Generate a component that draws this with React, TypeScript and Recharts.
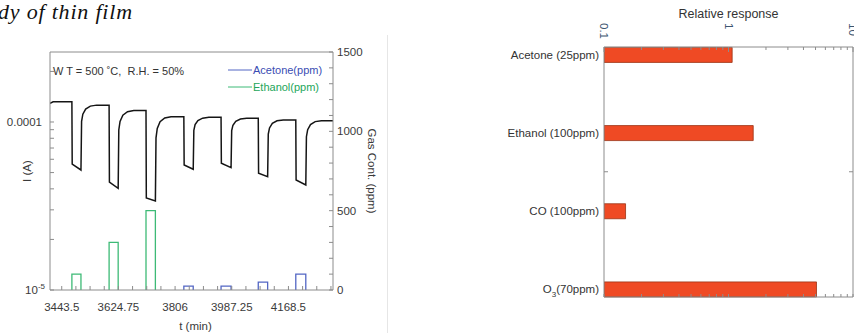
import React from 'react';
import { LineChart, Line, XAxis, YAxis, Legend, BarChart, Bar } from 'recharts';

// ---------- left panel: sensor current and gas pulses ----------
const timeTicks = [
  3443.5, 3488.8125, 3534.125, 3579.4375, 3624.75, 3670.0625, 3715.375, 3760.6875,
  3806, 3851.3125, 3896.625, 3941.9375, 3987.25, 4032.5625, 4077.875, 4123.1875,
  4168.5, 4213.8125, 4259.125, 4304.4375
];
const majorTimes = [3443.5, 3624.75, 3806, 3987.25, 4168.5];
const currentTicks = [1e-5, 2e-5, 3e-5, 4e-5, 5e-5, 6e-5, 7e-5, 8e-5, 9e-5, 1e-4, 2e-4];
const gasTicks = [0, 100, 200, 300, 400, 500, 600, 700, 800, 900, 1000, 1100, 1200, 1300, 1400, 1500];

const currentTime = [
  3406, 3416,
  3476, 3477, 3505, 3507, 3511, 3520, 3535, 3555,
  3595, 3596, 3624, 3626, 3630, 3639, 3654, 3674,
  3713, 3714, 3743, 3745, 3749, 3758, 3773, 3793,
  3834, 3835, 3864, 3866, 3870, 3879, 3894, 3914,
  3953, 3954, 3985, 3987, 3991, 4000, 4015, 4035,
  4072, 4073, 4102, 4104, 4108, 4117, 4132, 4152,
  4192, 4193, 4224, 4226, 4230, 4239, 4254, 4274,
  4311
];
const currentAmp = [
  1.29e-4, 1.32e-4,
  1.32e-4, 5.62e-5, 5.18e-5, 1.009e-4, 1.113e-4, 1.194e-4, 1.243e-4, 1.26e-4,
  1.26e-4, 4.39e-5, 4.03e-5, 8.96e-5, 1.008e-4, 1.098e-4, 1.151e-4, 1.17e-4,
  1.17e-4, 3.53e-5, 3.39e-5, 8.05e-5, 9.15e-5, 1.003e-4, 1.056e-4, 1.075e-4,
  1.075e-4, 5.55e-5, 5.23e-5, 8.92e-5, 9.65e-5, 1.021e-4, 1.054e-4, 1.066e-4,
  1.066e-4, 5.68e-5, 5.35e-5, 8.88e-5, 9.57e-5, 1.01e-4, 1.041e-4, 1.052e-4,
  1.052e-4, 4.95e-5, 4.73e-5, 8.47e-5, 9.22e-5, 9.81e-5, 1.016e-4, 1.028e-4,
  1.028e-4, 4.52e-5, 4.22e-5, 8.17e-5, 9.0e-5, 9.66e-5, 1.005e-4, 1.018e-4,
  1.018e-4
];

const ethanolStart = [3476, 3595, 3713];
const ethanolEnd = [3505, 3624, 3743];
const ethanolPpm = [100, 300, 500];

const acetoneStart = [3834, 3953, 4072, 4192];
const acetoneEnd = [3864, 3985, 4102, 4224];
const acetonePpm = [25, 25, 50, 100];

// ---------- right panel: relative response ----------
const gasNames = ['Acetone (25ppm)', 'Ethanol (100ppm)', 'CO (100ppm)', 'O3(70ppm)'];
const relResponse = [1.07, 1.58, 0.149, 5.09];
const responseTicks = [0.1, 0.2, 0.3, 0.4, 0.5, 0.6, 0.7, 0.8, 0.9, 1, 2, 3, 4, 5, 6, 7, 8, 9, 10];
const responseLabels: Record<number, string> = { 0.1: '0.1', 1: '1', 10: '10' };

const FONT = "'Liberation Sans', Arial, Helvetica, sans-serif";
const AXIS = '#8c8c8c';
const TXT = '#3a3a3a';
const GREEN = '#3dba76';
const BLUE = '#5366c4';

const currentData = currentTime.map((t, k) => ({ t, i: currentAmp[k] }));

const pulseRows = (start: number[], end: number[], ppm: number[]) =>
  start.flatMap((s, k) => [
    { t: s, v: 0 },
    { t: s, v: ppm[k] },
    { t: end[k], v: ppm[k] },
    { t: end[k], v: 0 },
    { t: end[k], v: null }
  ]);

const ethanolData = pulseRows(ethanolStart, ethanolEnd, ethanolPpm);
const acetoneData = pulseRows(acetoneStart, acetoneEnd, acetonePpm);

const responseData = gasNames.map((name, k) => ({ pos: k, name, value: relResponse[k] }));

const legendItems = [
  { name: 'Acetone(ppm)', line: BLUE, text: '#3a4db3' },
  { name: 'Ethanol(ppm)', line: GREEN, text: '#23a65a' }
];

const GasLegend = () => (
  <div style={{ fontFamily: FONT, fontSize: 11 }}>
    {legendItems.map((it) => (
      <div key={it.name} style={{ display: 'flex', alignItems: 'center', height: 17 }}>
        <svg width={24} height={10}>
          <line x1={0} x2={24} y1={5} y2={5} stroke={it.line} strokeWidth={1} />
        </svg>
        <span style={{ color: it.text, marginLeft: 1 }}>{it.name}</span>
      </div>
    ))}
  </div>
);

const CurrentTick = (props: any) => {
  const { x, y, payload } = props;
  const v = payload.value;
  if (Math.abs(v - 1e-4) < 1e-9) {
    return (
      <text x={x} y={y} dy={4} textAnchor="end" fill={TXT} fontSize={11.5} fontFamily={FONT}>0.0001</text>
    );
  }
  if (Math.abs(v - 1e-5) < 1e-10) {
    return (
      <text x={x + 3} y={y} dy={4} textAnchor="end" fill={TXT} fontSize={11.5} fontFamily={FONT}>
        10<tspan dy={-5} fontSize={8}>-5</tspan>
      </text>
    );
  }
  return null;
};

const ResponseTick = (props: any) => {
  const { x, y, payload } = props;
  const label = responseLabels[payload.value];
  const len = label ? 5 : 3;
  return (
    <g>
      <line x1={x} x2={x} y1={y + 24} y2={y + 24 + len} stroke={AXIS} />
      {label && (
        <text x={x} y={y} transform={`rotate(90 ${x} ${y})`} textAnchor="start" dominantBaseline="central"
          fill="#3d5570" fontSize={11.5} fontFamily={FONT}>{label}</text>
      )}
    </g>
  );
};

const GasNameTick = (props: any) => {
  const { x, y, payload } = props;
  const v = payload.value;
  if (v === 1.5) return <line x1={x + 5} x2={x + 9} y1={y} y2={y} stroke={AXIS} />;
  const name = gasNames[v];
  if (!name) return null;
  const common = { x, y, textAnchor: 'end' as const, fill: '#333', fontSize: 11.5, fontFamily: FONT };
  if (name.startsWith('O3')) {
    return (
      <text {...common} dy={4}>
        O<tspan dy={4} fontSize={8}>3</tspan><tspan dy={-4}>{name.slice(2)}</tspan>
      </text>
    );
  }
  return <text {...common} dy={4}>{name}</text>;
};

const App = () => (
  <div style={{ position: 'fixed', left: 0, top: 0, width: 854, height: 333, overflow: 'hidden', background: '#fff' }}>
    <div style={{ position: 'absolute', left: -2, top: 1, fontFamily: "'Liberation Serif', 'Times New Roman', serif",
      fontStyle: 'italic', fontSize: 22, letterSpacing: 0.8, lineHeight: '22px', color: '#111', whiteSpace: 'nowrap' }}>
      dy of thin film
    </div>

    <div style={{ position: 'absolute', left: 0, top: 0 }}>
      <LineChart width={386} height={333} margin={{ top: 51, right: 0, bottom: 0, left: 0 }}>
        <XAxis xAxisId="t" type="number" dataKey="t" domain={[3406, 4311]} allowDataOverflow ticks={timeTicks}
          interval={0} tickFormatter={(v) => (majorTimes.includes(v) ? String(v) : '')} tickSize={-4} tickMargin={17}
          height={43} stroke={AXIS} tick={{ fill: TXT, fontSize: 11.5, fontFamily: FONT }}
          label={{ value: 't (min)', position: 'center', dx: 4, dy: 14, fill: TXT, fontSize: 11.5, fontFamily: FONT }} />
        <XAxis xAxisId="top" orientation="top" type="number" domain={[3406, 4311]} allowDataOverflow ticks={timeTicks}
          interval={0} tickFormatter={() => ''} tickSize={-4} height={1} stroke={AXIS} />
        <YAxis yAxisId="cur" type="number" scale="log" domain={[1e-5, 2.61e-4]} allowDataOverflow ticks={currentTicks}
          interval={0} width={50} tickSize={-4} tickMargin={12} stroke={AXIS} tick={<CurrentTick />}
          label={{ value: 'I (A)', angle: -90, position: 'center', dx: 2, fill: TXT, fontSize: 11.5, fontFamily: FONT }} />
        <YAxis yAxisId="gas" orientation="right" type="number" domain={[0, 1500]} ticks={gasTicks} interval={0}
          width={53} tickSize={-4} tickMargin={8} stroke={AXIS}
          tickFormatter={(v) => (v % 500 === 0 ? String(v) : '')}
          tick={{ fill: TXT, fontSize: 11.5, fontFamily: FONT }}
          label={{ value: 'Gas Cont. (ppm)', angle: 90, position: 'center', dx: 13, fill: TXT, fontSize: 11.5, fontFamily: FONT }} />
        <Legend content={<GasLegend />} layout="vertical" align="center" verticalAlign="middle"
          wrapperStyle={{ left: 228, top: 61, width: 'auto', height: 'auto' }} />
        <Line xAxisId="t" yAxisId="gas" data={ethanolData} dataKey="v" stroke={GREEN} strokeWidth={1.3}
          dot={false} connectNulls={false} isAnimationActive={false} />
        <Line xAxisId="t" yAxisId="gas" data={acetoneData} dataKey="v" stroke={BLUE} strokeWidth={1.3}
          dot={false} connectNulls={false} isAnimationActive={false} />
        <Line xAxisId="t" yAxisId="cur" data={currentData} dataKey="i" type="linear" stroke="#151515" strokeWidth={1.5}
          dot={false} isAnimationActive={false} />
      </LineChart>
      <div style={{ position: 'absolute', left: 53, top: 65, fontFamily: FONT, fontSize: 11, color: '#333', whiteSpace: 'pre' }}>
        {'W T = 500 ˚C,  R.H. = 50%'}
      </div>
    </div>

    <div style={{ position: 'absolute', left: 387, top: 35, width: 1, height: 298, background: '#e6e6e6' }} />

    <div style={{ position: 'absolute', left: 390, top: 0 }}>
      <BarChart layout="vertical" width={464} height={333} data={responseData}
        margin={{ top: 0, right: 0, bottom: 35, left: 0 }}>
        <XAxis xAxisId="top" orientation="top" type="number" scale="log" domain={[0.1, 10]} allowDataOverflow
          ticks={responseTicks} interval={0} height={47} tickLine={false} tickSize={0} tickMargin={24} stroke={AXIS}
          tick={<ResponseTick />}
          label={{ value: 'Relative response', position: 'insideTop', offset: 9, fill: '#333', fontSize: 12.5, fontFamily: FONT }} />
        <XAxis xAxisId="bot" orientation="bottom" type="number" scale="log" domain={[0.1, 10]} allowDataOverflow
          ticks={responseTicks} interval={0} height={1} tickSize={-3} tickFormatter={() => ''} stroke={AXIS} />
        <YAxis yAxisId="cat" type="number" dataKey="pos" domain={[0, 3]} padding={{ top: 7.5, bottom: 8 }}
          ticks={[0, 1, 1.5, 2, 3]} interval={0} width={214} tickLine={false} tickSize={0} tickMargin={5}
          stroke={AXIS} tick={<GasNameTick />} />
        <YAxis yAxisId="edge" orientation="right" type="number" domain={[0, 3]} padding={{ top: 7.5, bottom: 8 }}
          ticks={[1.5]} interval={0} width={1} tickSize={-4} tickFormatter={() => ''} stroke={AXIS} />
        <Bar xAxisId="top" yAxisId="cat" dataKey="value" barSize={15} fill="#ef4a24" stroke="#9a3214"
          strokeWidth={0.8} isAnimationActive={false} />
      </BarChart>
    </div>
  </div>
);

export default App;
